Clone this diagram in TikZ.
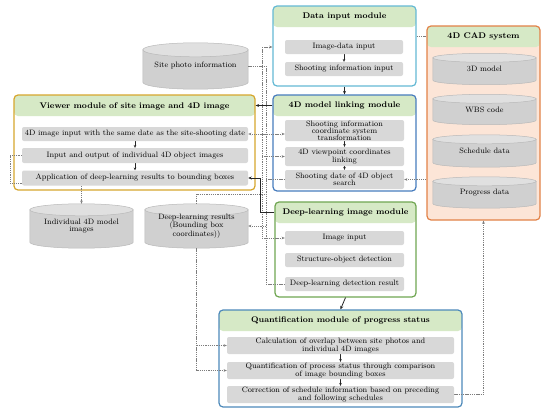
\documentclass[tikz,border=0pt]{standalone}
\usepackage{fontspec}
\usetikzlibrary{arrows.meta,calc,fit}
\pgfdeclarelayer{bg}
\pgfdeclarelayer{cyl}
\pgfdeclarelayer{mid}
\pgfsetlayers{bg,cyl,mid,main}
\definecolor{hdrgreen}{RGB}{214,233,198}
\definecolor{itemgray}{RGB}{216,216,216}
\definecolor{cylbody}{RGB}{208,208,208}
\definecolor{cyltop}{RGB}{224,224,224}
\definecolor{cyledge}{RGB}{185,185,185}
\definecolor{cadfill}{RGB}{252,229,215}
\definecolor{cadborder}{RGB}{226,130,72}
\definecolor{cview}{RGB}{214,166,45}
\definecolor{cdata}{RGB}{100,185,212}
\definecolor{clink}{RGB}{72,125,190}
\definecolor{cdl}{RGB}{112,166,82}
\definecolor{cquant}{RGB}{78,138,186}
\definecolor{dashgray}{RGB}{125,125,125}
\newcommand\myitemfont{\fontsize{7.8}{7.2}\selectfont}
\newcommand\mytitlefont{\fontsize{8.2}{9}\selectfont\bfseries}
\tikzset{
  module/.style={draw=#1, line width=1.2pt, rounded corners=4pt, fill=white, inner sep=0pt,
    path picture={\fill[hdrgreen] (path picture bounding box.north west) rectangle ([yshift=-21pt]path picture bounding box.north east);}},
  cadmodule/.style={module=cadborder, fill=cadfill},
  title/.style={font=\mytitlefont, inner sep=0pt},
  item/.style={fill=itemgray, rounded corners=2pt, inner sep=0pt, align=center, font=\myitemfont},
  cyltext/.style={inner sep=0pt, align=center, font=\myitemfont},
  sz/.style 2 args={minimum width=#1pt, minimum height=#2pt},
  dsh/.style={draw=dashgray, line width=0.6pt, dash pattern=on 1.3pt off 0.9pt},
  dar/.style={dsh, -{Stealth[length=3.2pt,width=2.6pt]}},
  sarr/.style={draw=black!85, line width=0.8pt, -{Stealth[length=3.5pt,width=3pt]}},
  iarr/.style={draw=black!85, line width=0.6pt, -{Stealth[length=2.8pt,width=2.6pt]}},
}
\begin{document}
\begin{tikzpicture}[x=1pt,y=-1pt]
\useasboundingbox (0,0) rectangle (550,415);
\begin{pgfonlayer}{bg}
  \fill[white] (0,0) rectangle (550,415);
  \node[module=cdata, fit={(273,6)(416,86)}] (data) {};
  \node[module=clink, fit={(273,95)(416,191)}] (link) {};
  \node[module=cview, fit={(14,95)(255,190)}] (viewer) {};
  \node[module=cdl, fit={(275,202)(416,297)}] (dlm) {};
  \node[module=cquant, fit={(219,310)(462,407)}] (quant) {};
  \node[cadmodule, fit={(427,26)(540,220)}] (cad) {};
\end{pgfonlayer}

% titles
\node[title] (dtitle) at (344.5,16.5) {Data input module};
\node[title] (ltitle) at (344.5,105.5) {4D model linking module};
\node[title] (vtitle) at (134.5,106) {Viewer module of site image and 4D image};
\node[title] (dltitle) at (345.5,212) {Deep-learning image module};
\node[title] (qtitle) at (340.5,320.5) {Quantification module of progress status};
\node[title] (ctitle) at (483.5,36.5) {4D CAD system};

% items
\node[item, sz={118}{14}] (idi) at (344,47) {Image-data input};
\node[item, sz={118}{14}] (sii) at (344,69) {Shooting information input};
\node[item, sz={119}{21}] (li1) at (344.5,130.5) {Shooting information\\coordinate system\\transformation};
\node[item, sz={119}{19}] (li2) at (344.5,156.5) {4D viewpoint coordinates\\linking};
\node[item, sz={119}{19}] (li3) at (344.5,179.5) {Shooting date of 4D object\\search};
\node[item, sz={226}{14}] (vi1) at (135,134) {4D image input with the same date as the site-shooting date};
\node[item, sz={226}{15}] (vi2) at (135,155.5) {Input and output of individual 4D object images};
\node[item, sz={226}{15}] (vi3) at (135,178) {Application of deep-learning results to bounding boxes};
\node[item, sz={119}{14}] (dii) at (344.5,238) {Image input};
\node[item, sz={119}{14}] (sod) at (344.5,260) {Structure-object detection};
\node[item, sz={119}{14}] (ddr) at (344.5,284) {Deep-learning detection result};
\node[item, sz={227}{17}] (q1) at (340.5,345.5) {Calculation of overlap between site photos and\\individual 4D images};
\node[item, sz={227}{17}] (q2) at (340.5,370.5) {Quantification of process status through comparison\\of image bounding boxes};
\node[item, sz={227}{17}] (q3) at (340.5,394.5) {Correction of schedule information based on preceding\\and following schedules};

% cylinders (text nodes)
\node[cyltext, sz={105}{46}] (site) at (195.5,66) {Site photo information};
\node[cyltext, sz={103}{44}] (ind) at (81.5,226) {Individual 4D model\\images};
\node[cyltext, sz={103}{44}] (dlr) at (196.5,226) {Deep-learning results\\(Bounding box\\coordinates))};
\node[cyltext, sz={103}{31}] (c1) at (484.5,69) {3D model};
\node[cyltext, sz={103}{30}] (c2) at (484.5,109.5) {WBS code};
\node[cyltext, sz={103}{32}] (c3) at (484.5,151) {Schedule data};
\node[cyltext, sz={103}{31}] (c4) at (484.5,192.5) {Progress data};

\begin{pgfonlayer}{cyl}
\foreach \cn/\rr in {site/7,ind/6,dlr/6,c1/4.5,c2/4.5,c3/4.5,c4/4.5}{
  \filldraw[fill=cylbody, draw=cyledge, line width=0.5pt] let \p1=(\cn.south west), \p2=(\cn.north east), \n1={(\x2-\x1)/2} in
    (\x1,\y2-\rr pt) -- (\x1,\y1+\rr pt) arc[start angle=180, end angle=360, x radius=\n1, y radius=\rr pt] -- (\x2,\y2-\rr pt) -- cycle;
  \filldraw[fill=cyltop, draw=cyledge, line width=0.5pt] let \p1=(\cn.south west), \p2=(\cn.north east), \n1={(\x2-\x1)/2} in
    ({(\x1+\x2)/2},{\y2-\rr pt}) ellipse [x radius=\n1, y radius=\rr pt];
}
\end{pgfonlayer}

\coordinate (busA) at (262,0);
\coordinate (busB) at (266,0);
\coordinate (dcj) at ($(data.east)+(0,-10)$);
\coordinate (dlj) at ($(dlr.north)+(0,-10)$);
\coordinate (vij) at ($(vi2.west)+(-12,28)$);

\begin{pgfonlayer}{mid}
  % dashed bus lines
  \draw[dsh] (site.east) -- (site.east -| busB);
  \draw[dsh] (busA |- idi) -- (busA |- dii);
  \draw[dsh] (busB |- site.east) -- (busB |- ddr);
  \draw[dar] (busA |- idi) -- (data.west |- idi);
  \draw[dar] (busB |- vi1) -- (vi1.east);
  \draw[dar] (busA |- vi1) -- (li1.west |- vi1);
  \draw[dar] (busA |- li2) -- (li2.west);
  \draw[dsh] (busB |- li3) -- (li3.west);
  \draw[dsh] (dlr.north) -- (dlj) -- (dlj -| busB);
  \draw[dar] (busB |- dlr) -- (dlr.east);
  \draw[dar] (busA |- dii) -- (dii.west);
  \draw[dsh] (busB |- ddr) -- (ddr.west);
  % other dashed
  \draw[dar] (vi2.west) -| (vij) -| (ind.north);
  \draw[dar] (dlr.south) |- (q2.west);
  \draw[dar] (dlr.south |- q1) -- (q1.west);
  \draw[dar] (q3.east) -| (cad.south);
  \draw[dar] (cad.west |- li3) -- (li3.east);
  \draw[dsh] (dcj) -- (dcj -| cad.west);
  % solid
  \draw[sarr] (link.west |- ltitle) -- (viewer.east |- ltitle);
  \draw[sarr] (data.south) -- (link.north);
  \draw[sarr] (dlm.west |- dltitle) -- ++(-14,0) |- (vi3.east);
  \draw[sarr] (dlm.south) -- (quant.north);
  \foreach \a/\b in {idi/sii, li1/li2, li2/li3, vi1/vi2, vi2/vi3, q1/q2, q2/q3}
    \draw[iarr] (\a.south) -- (\b.north);
\end{pgfonlayer}
\end{tikzpicture}
\end{document}
